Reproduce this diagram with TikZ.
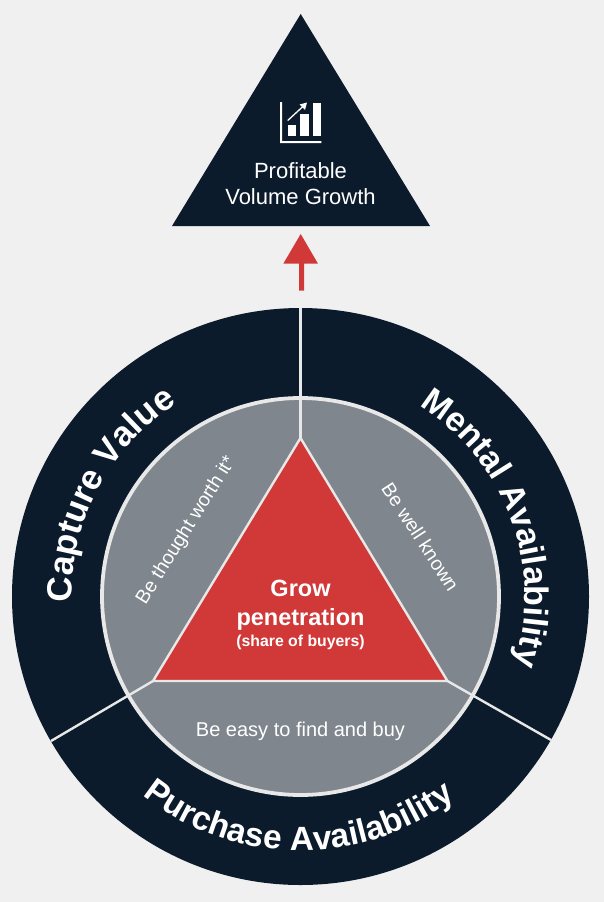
\documentclass[tikz,border=0pt]{standalone}
\usepackage{fontspec}
\setmainfont{Liberation Sans}
\usetikzlibrary{decorations.text}
\definecolor{bgc}{HTML}{F0F0F0}
\definecolor{navy}{HTML}{0B1B2B}
\definecolor{slate}{HTML}{7F868D}
\definecolor{redc}{HTML}{D13838}
\definecolor{sep}{HTML}{E8E8E8}
\tikzset{
  x=1pt,y=-1pt,
  sepline/.style={draw=sep,line width=2.4pt},
  wtext/.style={text=white,align=center,inner sep=0pt,font=\fontsize{22}{26}\selectfont},
  ltext/.style={text=white,align=center,inner sep=0pt,font=\fontsize{19.5}{23}\selectfont},
  arctext/.style={decorate,decoration={text along path,text align={center},text={#1}}},
}
\newcommand{\rimfont}[1]{\fontsize{#1}{#1}\selectfont\bfseries}
\begin{document}
\begin{tikzpicture}
\fill[bgc] (0,0) rectangle (604,902);
\useasboundingbox (0,0) rectangle (604,902);
\coordinate (c) at (300.5,596.5);
% top triangle
\coordinate (ta) at (300.7,14);
\coordinate (tl) at (172,226);
\coordinate (tr) at (430,226);
\fill[navy] (ta) -- (tr) -- (tl) -- cycle;
% icon
\fill[white] (280,102) rectangle (282,143) (280,141) rectangle (321.3,143);
\fill[white] (287.5,125) rectangle (296,136);
\fill[white] (300,114) rectangle (308.7,136);
\fill[white] (312.7,102.7) rectangle (321.3,136);
\draw[white,line width=1.3pt] (287.7,120.5) -- (304,105.5);
\fill[white] (307,102.5) -- (299.5,104.5) -- (305,110) -- cycle;
\node[wtext] (goal) at (300.5,184) {Profitable\\Volume Growth};
% red arrow
\fill[redc] (300.7,234) -- (318,263.7) -- (304,263.7) -- (304,290.7) -- (299,290.7) -- (299,263.7) -- (283.3,263.7) -- cycle;
% rings
\fill[navy] (c) circle[radius=288.5];
\draw[sepline,line width=3.8pt,fill=slate] (c) circle[radius=198.5];
% triangle
\coordinate (a) at (300.5,438);
\coordinate (b) at (447.5,681);
\coordinate (d) at (153,681);
\coordinate (r1) at (300.5,308);
\coordinate (r2) at (551,740);
\coordinate (r3) at (51,741);
\draw[sepline] (r1) -- (a);
\draw[sepline] (b) -- (r2);
\draw[sepline] (d) -- (r3);
\draw[sepline,fill=redc,line join=miter] (a) -- (b) -- (d) -- cycle;
% inner text
\node[ltext,rotate=58] (t1) at (186.5,530.5) {Be thought worth it*};
\node[ltext,rotate=-57] (t2) at (420.5,537) {Be well known};
\node[ltext,font=\fontsize{20}{23}\selectfont] (t3) at (300.5,731.5) {Be easy to find and buy};
\node[text=white,align=center,inner sep=0pt,font=\bfseries\fontsize{23.5}{28.5}\selectfont] (t4) at (300.5,605) {Grow\\penetration};
\node[text=white,inner sep=0pt,font=\bfseries\fontsize{15.8}{18}\selectfont] (t5) at (300.5,642.5) {(share of buyers)};
% rim text
\path[arctext={|\rimfont{35}\color{white}|Capture Value}] (c) ++(-207:229) arc[start angle=-207,end angle=-97,radius=229];
\path[arctext={|\rimfont{34}\color{white}|Mental Availability}] (c) ++(-70.3:224.5) arc[start angle=-70.3,end angle=29.7,radius=224.5];
\path[arctext={|\rimfont{33.5}\color{white}|Purchase Availability}] (c) ++(-215.5:254) arc[start angle=-215.5,end angle=-323.5,radius=254];
\end{tikzpicture}
\end{document}
